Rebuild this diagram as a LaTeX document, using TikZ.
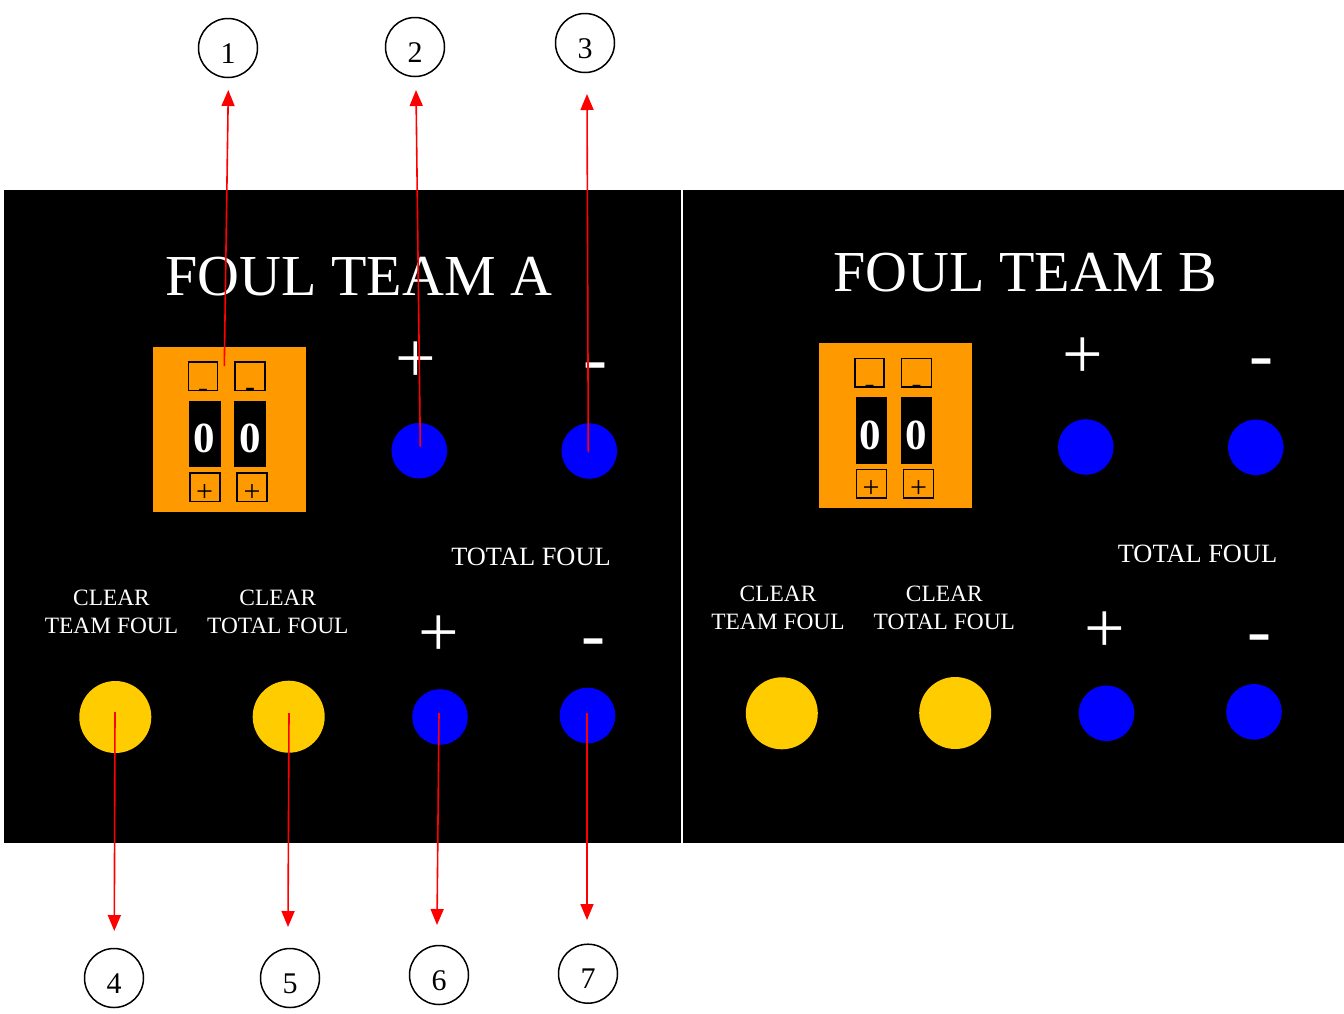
\documentclass[tikz,border=0pt]{standalone}
\usepackage{fontspec}
\setmainfont{Liberation Serif}
\usetikzlibrary{arrows.meta}
\definecolor{orng}{HTML}{FF9900}
\definecolor{ylw}{HTML}{FFCC00}
\definecolor{blu}{HTML}{0000FF}
\tikzset{
 counter/.style={fill=orng,draw=none,inner sep=0},
 smallbox/.style={draw=black,line width=1.4pt,fill=none,inner sep=0},
 digitbox/.style={fill=black,draw=none,inner sep=0},
 bluebtn/.style={circle,fill=blu,draw=none,inner sep=0,minimum size=55.6pt},
 yellowbtn/.style={circle,fill=ylw,draw=none,inner sep=0,minimum size=72pt},
 numc/.style={circle,draw=black,line width=1.5pt,inner sep=0,minimum size=59pt,font=\fontsize{30}{30}\selectfont,text height=30pt,text depth=0pt},
 ttl/.style={text=white,font=\fontsize{58}{60}\selectfont,anchor=base,inner sep=0},
 lbl/.style={text=white,font=\fontsize{26.4}{28}\selectfont,anchor=base,inner sep=0},
 clr/.style={text=white,font=\fontsize{23.4}{27.7}\selectfont,align=center,anchor=base,inner sep=0},
 bigsign/.style={text=white,font=\fontsize{72}{72}\selectfont,anchor=base,inner sep=0},
 smallsign/.style={text=black,font=\fontsize{30}{30}\selectfont,anchor=base,inner sep=0},
 digit/.style={text=white,font=\fontsize{43}{43}\selectfont\bfseries,anchor=base,inner sep=0},
 callout/.style={draw=red,line width=1.6pt,-{Triangle[length=16pt,width=13pt]}},
}
\newcommand\foulpanel[2]{%
 \node[ttl] (title#1) at (358.7,295) {FOUL TEAM #2};
 \node[counter,minimum width=153pt,minimum height=165pt] (or#1) at (229.2,429.5) {};
 \node[smallbox,minimum width=29.2pt,minimum height=28.6pt] (tl#1) at (203,376.35) {};
 \node[smallbox,minimum width=30pt,minimum height=28.6pt] (tr#1) at (250,376.35) {};
 \node[digitbox,minimum width=31.7pt,minimum height=66.3pt] (dl#1) at (204.85,434.15) {};
 \node[digitbox,minimum width=31.4pt,minimum height=66.3pt] (dr#1) at (250,434.15) {};
 \node[smallbox,minimum width=30pt,minimum height=28.6pt] (bl#1) at (205,487.3) {};
 \node[smallbox,minimum width=30pt,minimum height=28.6pt] (br#1) at (252,487.3) {};
 \node[smallsign] (tlm#1) at (203,397) {-};
 \node[smallsign] (trm#1) at (250,396.7) {-};
 \node[smallsign] (blp#1) at (204.5,501.5) {+};
 \node[smallsign] (brp#1) at (252,501.5) {+};
 \node[digit] (zl#1) at (204.2,452.8) {0};
 \node[digit] (zr#1) at (249.8,452.8) {0};
 \node[bigsign] (tp#1) at (416,382) {+};
 \node[bigsign] (tm#1) at (595,382) {-};
 \node[bluebtn] (bp#1) at (419.3,450.7) {};
 \node[bluebtn] (bm#1) at (589.3,451) {};
 \node[lbl] (tf#1) at (531,565.7) {TOTAL FOUL};
 \node[clr] (ctf#1) at (111.5,633) {CLEAR\\TEAM FOUL};
 \node[clr] (cto#1) at (277.8,633) {CLEAR\\TOTAL FOUL};
 \node[bigsign] (lp#1) at (438.7,656) {+};
 \node[bigsign] (lm#1) at (593.2,658) {-};
 \node[yellowbtn] (yt#1) at (115.3,717) {};
 \node[yellowbtn] (yo#1) at (288.7,716.7) {};
 \node[bluebtn] (lbp#1) at (440,717) {};
 \node[bluebtn] (lbm#1) at (587.5,715.5) {};
}
\begin{document}
\begin{tikzpicture}[x=1pt,y=-1pt]
\useasboundingbox (0,0) rectangle (1344,1013);
\fill[black] (4,190) rectangle (681,843);
\fill[black] (683,190) rectangle (1344,843);
\foulpanel{A}{A}
\begin{scope}[shift={(666.5,-3.7)}]
\foulpanel{B}{B}
\end{scope}
% numbered callouts
\node[numc] (n1) at (228,48) {1};
\node[numc] (n2) at (415,47) {2};
\node[numc] (n3) at (585,43) {3};
\node[numc] (n4) at (114,978) {4};
\node[numc] (n5) at (290,978) {5};
\node[numc] (n6) at (439,975) {6};
\node[numc] (n7) at (588,973.7) {7};
\coordinate (s1) at (224.3,366);
\coordinate (t1) at (228.3,90);
\coordinate (s2) at (420.3,446.7);
\coordinate (t2) at (416,90);
\coordinate (s3) at (588.3,452.3);
\coordinate (t3) at (587,94);
\coordinate (s4) at (115,712);
\coordinate (t4) at (114.3,931);
\coordinate (s5) at (289,713);
\coordinate (t5) at (288,927);
\coordinate (s6) at (439,713);
\coordinate (t6) at (437,925);
\coordinate (s7) at (587,713);
\coordinate (t7) at (587,920);
\foreach \i in {1,...,7}{\draw[callout] (s\i) -- (t\i);}
\end{tikzpicture}
\end{document}
